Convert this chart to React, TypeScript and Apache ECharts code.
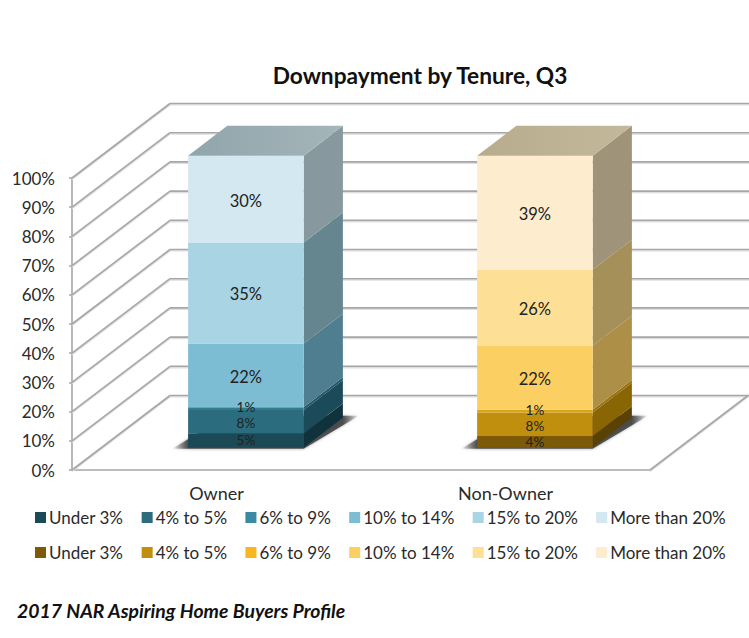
import React, { useEffect, useRef } from "react";
import * as echarts from "echarts";

const TITLE = "Downpayment by Tenure, Q3";
const SOURCE = "2017 NAR Aspiring Home Buyers Profile";
const categories = ["Owner", "Non-Owner"];
const bands = ["Under 3%", "4% to 5%", "6% to 9%", "10% to 14%", "15% to 20%", "More than 20%"];
const ownerValues = [5, 8, 1, 22, 35, 30];
const nonOwnerValues = [4, 8, 1, 22, 26, 39];
const yTicks = [0, 10, 20, 30, 40, 50, 60, 70, 80, 90, 100];

const ownerLegend = ["#1c4956", "#2b6d7e", "#3a8aa5", "#7dbdd4", "#a8d4e3", "#d3e8f0"];
const ownerFront = ["#1c4956", "#2b6d7e", "#327b90", "#7dbdd4", "#a8d4e3", "#d3e8f0"];
const ownerSide = ["#10323d", "#1b4a58", "#23586a", "#4f7e90", "#66868f", "#87989e"];
const ownerTop = ["#90a5ac", "#a5b5b9"];
const nonOwnerLegend = ["#7c5a08", "#c08f0e", "#f6b81e", "#fccf62", "#fde096", "#fdeccd"];
const nonOwnerFront = ["#7c5a08", "#c08f0e", "#dba415", "#fccf62", "#fde096", "#fdeccd"];
const nonOwnerSide = ["#5a4206", "#8a6504", "#97720f", "#ae8f48", "#a5905a", "#9f947a"];
const nonOwnerTop = ["#b8ac8e", "#c3b89b"];

const FONT = "Lato";
const GRID = { left: 72, top: 178, width: 578, height: 292 };
const WALL_DX = 98;
const WALL_DY = 74.5;
const BAR_FRONT = 0.3;
const BAR_DEPTH = 0.4;
const BAR_RATIO = 0.4;
const SHADOW_REACH = 16;
const LABEL_NUDGE = [0, 1.5, -1.5, 1.5, 1.5, 1.5];
const LINE = { stroke: "#a6a6a6", lineWidth: 1.6 };
const LINE_SHADOW = { stroke: "#dedede", lineWidth: 1.4 };

function frameItem(params: any, api: any) {
  const cs = params.coordSys;
  const children: any[] = [];
  const seg = (x1: number, y1: number, x2: number, y2: number) => {
    children.push({ type: "line", silent: true, shape: { x1, y1: y1 + 1.4, x2, y2: y2 + 1.4 }, style: LINE_SHADOW });
    children.push({ type: "line", silent: true, shape: { x1, y1, x2, y2 }, style: LINE });
  };
  yTicks.forEach((t) => {
    const y = api.coord([0, t])[1];
    seg(cs.x, y, cs.x + WALL_DX, y - WALL_DY);
    seg(cs.x + WALL_DX, y - WALL_DY, 749, y - WALL_DY);
  });
  const y0 = api.coord([0, 0])[1];
  seg(cs.x + cs.width, y0, cs.x + cs.width + WALL_DX, y0 - WALL_DY);
  return { type: "group", children };
}

function segmentItem(values: number[], index: number, front: string[], side: string[], top: string[]) {
  const total = values.reduce((a, b) => a + b, 0);
  const before = values.slice(0, index).reduce((a, b) => a + b, 0);
  const lo = (before / total) * 100;
  const hi = ((before + values[index]) / total) * 100;
  return (_params: any, api: any) => {
    const cat = api.value(0);
    const w = api.size([1, 0])[0] * BAR_RATIO;
    const sx = WALL_DX * BAR_FRONT;
    const sy = WALL_DY * BAR_FRONT;
    const dx = WALL_DX * BAR_DEPTH;
    const dy = WALL_DY * BAR_DEPTH;
    const a = api.coord([cat, lo]);
    const b = api.coord([cat, hi]);
    const xl = a[0] + sx - w / 2;
    const xr = a[0] + sx + w / 2;
    const yl = a[1] - sy;
    const yh = b[1] - sy;
    const children: any[] = [];
    if (index === 0) {
      const span = w + dx + SHADOW_REACH * 2;
      const edge = SHADOW_REACH / span;
      children.push({
        type: "polygon",
        silent: true,
        shape: {
          points: [
            [xl - SHADOW_REACH, yl + 1],
            [xr, yl + 1],
            [xr + dx + SHADOW_REACH, yl - dy - 2],
            [xl + dx, yl - dy - 2],
          ],
        },
        style: {
          fill: new echarts.graphic.LinearGradient(0, 0, 1, 0, [
            { offset: 0, color: "rgba(70,70,70,0)" },
            { offset: edge, color: "rgba(60,60,60,0.85)" },
            { offset: 1 - edge, color: "rgba(60,60,60,0.85)" },
            { offset: 1, color: "rgba(70,70,70,0)" },
          ]),
          shadowColor: "rgba(70,70,70,0.6)",
          shadowBlur: 3,
        },
      });
    }
    children.push({
      type: "polygon",
      silent: true,
      shape: { points: [[xr, yl], [xr + dx, yl - dy], [xr + dx, yh - dy], [xr, yh]] },
      style: { fill: side[index] },
    });
    children.push({
      type: "rect",
      silent: true,
      shape: { x: xl, y: yh, width: xr - xl, height: yl - yh },
      style: { fill: front[index] },
    });
    if (index === values.length - 1) {
      children.push({
        type: "polygon",
        silent: true,
        shape: { points: [[xl, yh], [xr, yh], [xr + dx, yh - dy], [xl + dx, yh - dy]] },
        style: {
          fill: new echarts.graphic.LinearGradient(0, 0, 1, 0, [
            { offset: 0, color: top[0] },
            { offset: 1, color: top[1] },
          ]),
        },
      });
    }
    const small = values[index] < 10;
    children.push({
      type: "text",
      silent: true,
      z2: 10,
      style: {
        x: (xl + xr) / 2,
        y: (yl + yh) / 2 + LABEL_NUDGE[index],
        text: values[index] + "%",
        fill: "#222",
        font: `${small ? 13.5 : 16.5}px ${FONT}`,
        align: "center",
        verticalAlign: "middle",
      },
    });
    return { type: "group", children };
  };
}

function makeSeries(prefix: string, cat: number, values: number[], legend: string[], front: string[], side: string[], top: string[]) {
  return bands.map((band, i) => ({
    type: "custom",
    name: `${prefix}: ${band}`,
    data: [[cat, values[i]]],
    encode: { x: 0, y: 1 },
    itemStyle: { color: legend[i] },
    renderItem: segmentItem(values, i, front, side, top),
    z: 3,
  }));
}

function makeLegend(prefix: string, top: number) {
  return {
    left: 35,
    top,
    width: 714,
    padding: 0,
    orient: "horizontal",
    itemWidth: 11,
    itemHeight: 11,
    itemGap: 18.4,
    icon: "rect",
    selectedMode: false,
    data: bands.map((b) => `${prefix}: ${b}`),
    formatter: (n: string) => n.slice(prefix.length + 2),
    textStyle: { fontFamily: FONT, fontSize: 17, color: "#2a2a2a", padding: [0, 0, 0, -2] },
  };
}

export default function App() {
  const ref = useRef<HTMLDivElement>(null);
  useEffect(() => {
    const chart = echarts.init(ref.current!, undefined, { renderer: "svg" });
    chart.setOption({
      animation: false,
      backgroundColor: "#ffffff",
      title: [
        {
          text: TITLE,
          left: 415,
          top: 59,
          textAlign: "center",
          textStyle: { fontFamily: FONT, fontWeight: "bold", fontSize: 22.7, color: "#111" },
        },
        {
          text: SOURCE,
          left: 12,
          top: 596,
          textStyle: { fontFamily: FONT, fontWeight: "bold", fontStyle: "italic", fontSize: 19.4, color: "#111" },
        },
      ],
      grid: { ...GRID },
      xAxis: {
        type: "category",
        data: categories,
        axisLine: { lineStyle: { color: "#a6a6a6", width: 1.6 } },
        axisTick: { length: 4, lineStyle: { color: "#a6a6a6", width: 1.5 } },
        axisLabel: { fontFamily: FONT, fontSize: 18, color: "#2a2a2a", margin: 14 },
      },
      yAxis: {
        type: "value",
        min: 0,
        max: 100,
        interval: 10,
        splitLine: { show: false },
        axisLine: { show: true, lineStyle: { color: "#a6a6a6", width: 1.6 } },
        axisTick: { show: true, length: 3, lineStyle: { color: "#a6a6a6", width: 1.5 } },
        axisLabel: { fontFamily: FONT, fontSize: 17, color: "#2a2a2a", margin: 17, padding: [4, 0, 0, 0], formatter: "{value}%" },
      },
      legend: [makeLegend("Owner", 509), makeLegend("Non-Owner", 544)],
      series: [
        { type: "custom", name: "frame", data: [[0, 0]], encode: { x: 0, y: 1 }, renderItem: frameItem, z: 1 },
        ...makeSeries("Owner", 0, ownerValues, ownerLegend, ownerFront, ownerSide, ownerTop),
        ...makeSeries("Non-Owner", 1, nonOwnerValues, nonOwnerLegend, nonOwnerFront, nonOwnerSide, nonOwnerTop),
      ],
    });
    return () => chart.dispose();
  }, []);
  return <div ref={ref} style={{ position: "absolute", left: 0, top: 0, width: 749, height: 638 }} />;
}
